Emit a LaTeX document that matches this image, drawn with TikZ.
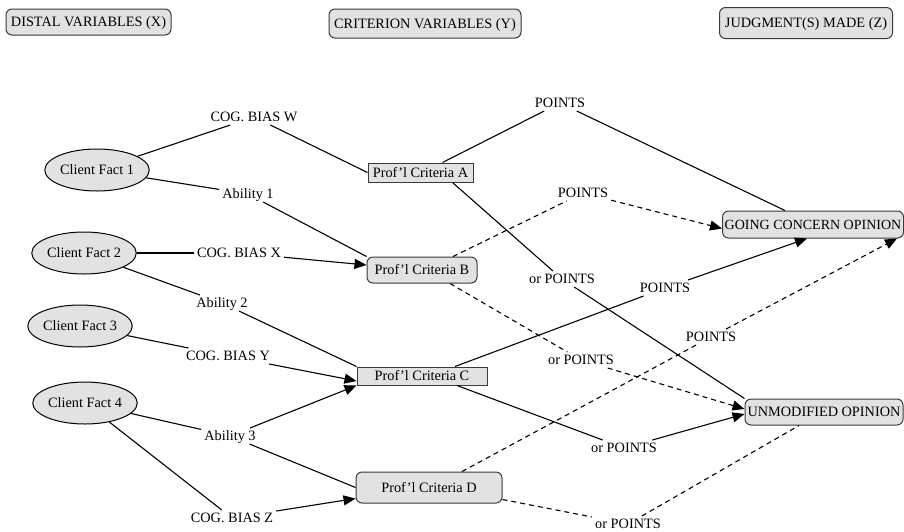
\documentclass[tikz,border=0pt]{standalone}
\usepackage{fontspec}
\setmainfont{Liberation Serif}
\usetikzlibrary{arrows.meta,shapes.geometric}
\definecolor{boxgray}{HTML}{E2E2E2}
\definecolor{edgegray}{HTML}{3A3A3A}
\begin{document}
\begin{tikzpicture}[x=1pt,y=-1pt,
  every node/.style={font=\fontsize{14.3}{16}\selectfont, text height=9.6pt, text depth=0pt, inner sep=0pt},
  hdr/.style={draw=edgegray, fill=boxgray, line width=1pt, rounded corners=6pt},
  fact/.style={ellipse, draw=black, fill=boxgray, line width=1pt, minimum width=98pt, minimum height=42pt},
  critsq/.style={rectangle, draw=edgegray, fill=boxgray, line width=1pt},
  critrd/.style={rectangle, draw=edgegray, fill=boxgray, line width=1pt, rounded corners=6pt},
  lbl/.style={inner xsep=3pt, inner ysep=3pt},
  conn/.style={line width=1.1pt, draw=black},
  arr/.style={-{Triangle[length=12pt,width=10pt]}},
  dsh/.style={dash pattern=on 5pt off 4pt},
]
\useasboundingbox (0,0) rectangle (904,531);

% headers
\node[hdr, minimum width=165pt, minimum height=26pt] (hx) at (88.5,22) {DISTAL VARIABLES (X)};
\node[hdr, minimum width=192pt, minimum height=29pt] (hy) at (425,23.5) {CRITERION VARIABLES (Y)};
\node[hdr, minimum width=173pt, minimum height=31pt] (hz) at (806,23) {JUDGMENT(S) MADE (Z)};

% client facts
\node[fact] (cf1) at (97,170) {Client Fact 1};
\node[fact] (cf2) at (84,253) {Client Fact 2};
\node[fact] (cf3) at (80,326) {Client Fact 3};
\node[fact] (cf4) at (85,403) {Client Fact 4};

% criteria
\node[critsq, minimum width=105pt, minimum height=19pt] (pa) at (420.5,172.5) {Prof'l Criteria A};
\node[critrd, minimum width=110pt, minimum height=26pt] (pb) at (422,270) {Prof'l Criteria B};
\node[critsq, minimum width=130pt, minimum height=18pt] (pc) at (422,376) {Prof'l Criteria C};
\node[critrd, minimum width=146pt, minimum height=31pt] (pd) at (429,487.5) {Prof'l Criteria D};

% judgments
\node[critrd, minimum width=181pt, minimum height=27pt, anchor=west, font=\fontsize{14}{16}\selectfont] (gc) at (722,224.5) {GOING CONCERN OPINION};
\node[critrd, minimum width=158pt, minimum height=26pt] (um) at (824,412) {UNMODIFIED OPINION};

% labels left
\node[lbl] (cogw) at (254,117) {COG. BIAS W};
\node[lbl] (ab1) at (248,194) {Ability 1};
\node[lbl] (cogx) at (239,253) {COG. BIAS X};
\node[lbl] (ab2) at (222,303) {Ability 2};
\node[lbl] (cogy) at (228,356) {COG. BIAS Y};
\node[lbl] (ab3) at (230,436) {Ability 3};
\node[lbl] (cogz) at (232,518) {COG. BIAS Z};

% labels right
\node[lbl] (pts1) at (560,103) {POINTS};
\node[lbl] (pts2) at (583,193) {POINTS};
\node[lbl] (orp1) at (562,279) {or POINTS};
\node[lbl] (pts3) at (665,288) {POINTS};
\node[lbl] (pts4) at (711,337) {POINTS};
\node[lbl] (orp2) at (581,360) {or POINTS};
\node[lbl] (orp3) at (624,448) {or POINTS};
\node[lbl] (orp4) at (628,524) {or POINTS};

% left connectors
\draw[conn] (cf1) -- (cogw);
\draw[conn] (cogw) -- (pa.west);
\draw[conn] (cf1) -- (ab1);
\draw[conn] (ab1) -- (pb.north west);
\draw[conn] (cf2) -- (cogx);
\draw[conn,arr] (cogx) -- ([yshift=5pt]pb.west);
\draw[conn] (cf2) -- (ab2);
\draw[conn] (ab2) -- (pc.north west);
\draw[conn] (cf3) -- (cogy);
\draw[conn,arr] (cogy) -- ([yshift=-5pt]pc.west);
\draw[conn] (cf4) -- (ab3);
\draw[conn,arr] (ab3) -- (pc.south west);
\draw[conn] (ab3) -- (pd.west);
\draw[conn] (cf4) -- (cogz);
\draw[conn,arr] (cogz) -- ([yshift=-11pt]pd.west);

% right connectors
\draw[conn] ([xshift=22pt]pa.north) -- (pts1);
\draw[conn] (pts1) -- ([xshift=-28pt]gc.north);
\draw[conn,dsh] ([xshift=31pt]pb.north) -- (pts2);
\draw[conn,dsh,arr] (pts2) -- ([yshift=-4pt]gc.west);
\draw[conn] ([xshift=32pt]pa.south) -- (orp1);
\draw[conn] (orp1) -- (um.north west);
\draw[conn] ([xshift=33pt]pc.north) -- (pts3);
\draw[conn,arr] (pts3) -- ([xshift=-6pt]gc.south);
\draw[conn,dsh] ([xshift=33pt]pd.north) -- (pts4);
\draw[conn,dsh,arr] (pts4) -- ([xshift=84pt]gc.south);
\draw[conn,dsh] ([xshift=28pt]pb.south) -- (orp2);
\draw[conn,dsh,arr] (orp2) -- ([yshift=3pt]um.west);
\draw[conn] ([xshift=35pt]pc.south) -- (orp3);
\draw[conn,arr] (orp3) -- ([yshift=-2pt]um.west);
\draw[conn,dsh] ([yshift=-12pt]pd.east) -- (orp4);
\draw[conn,dsh] (orp4) -- ([xshift=-25pt]um.south);
\end{tikzpicture}
\end{document}
